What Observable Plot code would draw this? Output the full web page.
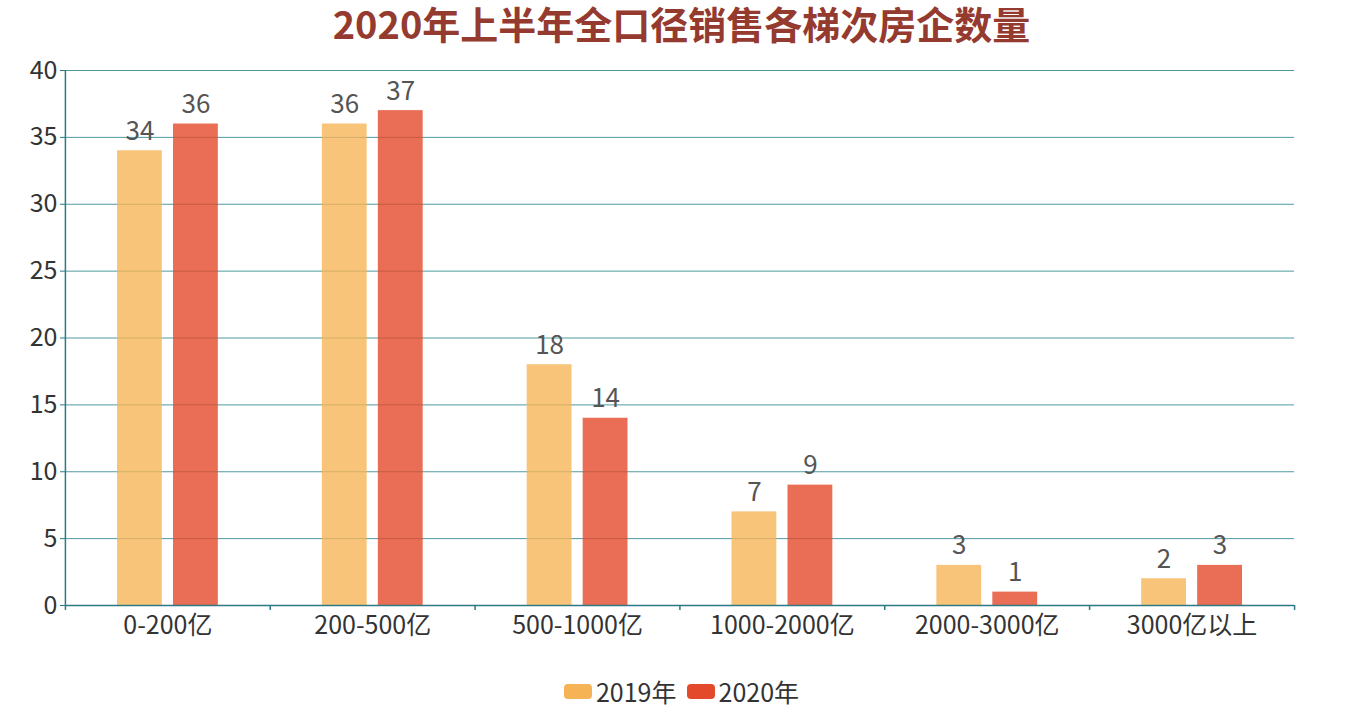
<!DOCTYPE html>
<html>
<head>
<meta charset="utf-8">
<script src="https://cdn.jsdelivr.net/npm/d3@7"></script>
<script src="https://cdn.jsdelivr.net/npm/@observablehq/plot@0.6"></script>
<style>
  html, body { margin: 0; padding: 0; background: #fff; overflow: hidden; }
  body { width: 1363px; height: 708px; font-family: "Noto Sans CJK SC", "Noto Sans", sans-serif; }
  #title { height: 50px; line-height: 52px; margin-top: -3px; margin-bottom: 3px; text-align: center; font-size: 38px; font-weight: bold; color: #953a2f; white-space: nowrap; }
  #legend { margin-top: 28px; height: 26px; display: flex; justify-content: center; align-items: center; font-size: 25px; color: #333; }
  .item { display: flex; align-items: center; margin: 0 5px; }
  .sw { width: 28px; height: 15px; border-radius: 4px; margin-right: 4px; }
  svg { display: block; }
</style>
</head>
<body>
<div id="title">2020年上半年全口径销售各梯次房企数量</div>
<div id="chart"></div>
<div id="legend"></div>
<script>
const categories = ["0-200亿", "200-500亿", "500-1000亿", "1000-2000亿", "2000-3000亿", "3000亿以上"];
const seriesNames = ["2019年", "2020年"];
const values2019 = [34, 36, 18, 7, 3, 2];
const values2020 = [36, 37, 14, 9, 1, 3];
const yTicks = [0, 5, 10, 15, 20, 25, 30, 35, 40];
const colors = ["#f6b355", "#e34a2b"];

const data2019 = categories.map((c, i) => ({category: c, series: seriesNames[0], value: values2019[i]}));
const data2020 = categories.map((c, i) => ({category: c, series: seriesNames[1], value: values2020[i]}));

const axisColor = "#2b7a84";
const gridColor = "#4f9aa2";
const lastCat = [categories[categories.length - 1]];

const chart = Plot.plot({
  width: 1363,
  height: 600,
  marginTop: 20,
  marginLeft: 65,
  marginRight: 69,
  marginBottom: 45,
  style: {fontFamily: "'Noto Sans CJK SC', 'Noto Sans', sans-serif", fontSize: "25px", color: "#333", background: "white", overflow: "visible"},
  x: {domain: categories, padding: 0, round: false, axis: null},
  y: {domain: [0, 40], axis: null},
  marks: [
    Plot.gridY(yTicks, {stroke: gridColor, strokeOpacity: 1}),
    Plot.barY(data2019, {x: "category", y: "value", fill: colors[0], fillOpacity: 0.78, insetLeft: 52, insetRight: 108}),
    Plot.barY(data2020, {x: "category", y: "value", fill: colors[1], fillOpacity: 0.8, insetLeft: 108, insetRight: 52}),
    Plot.text(data2019, {x: "category", y: "value", text: d => String(d.value), dx: -28, dy: -11, lineAnchor: "bottom", fill: "#555", fontSize: 26}),
    Plot.text(data2020, {x: "category", y: "value", text: d => String(d.value), dx: 28, dy: -11, lineAnchor: "bottom", fill: "#555", fontSize: 26}),
    Plot.ruleY([0], {stroke: axisColor, strokeWidth: 1.5}),
    Plot.ruleX([categories[0]], {dx: -102.5, stroke: axisColor, strokeWidth: 1.5}),
    Plot.ruleX(categories, {dx: -102.5, y1: 0, y2: -0.37, stroke: axisColor, strokeWidth: 1.5}),
    Plot.ruleX(lastCat, {dx: 102.5, y1: 0, y2: -0.37, stroke: axisColor, strokeWidth: 1.5}),
    Plot.axisY(yTicks, {tickSize: 5, tickPadding: 3, stroke: axisColor, fill: "#333", fontSize: 25, label: null}),
    Plot.axisX(categories, {tickSize: 0, tickPadding: 11, fill: "#333", fontSize: 25, label: null})
  ]
});
document.getElementById("chart").appendChild(chart);

const legend = document.getElementById("legend");
seriesNames.forEach((name, i) => {
  const item = document.createElement("div");
  item.className = "item";
  const sw = document.createElement("div");
  sw.className = "sw";
  sw.style.background = colors[i];
  const label = document.createElement("span");
  label.textContent = name;
  item.appendChild(sw);
  item.appendChild(label);
  legend.appendChild(item);
});
</script>
</body>
</html>
